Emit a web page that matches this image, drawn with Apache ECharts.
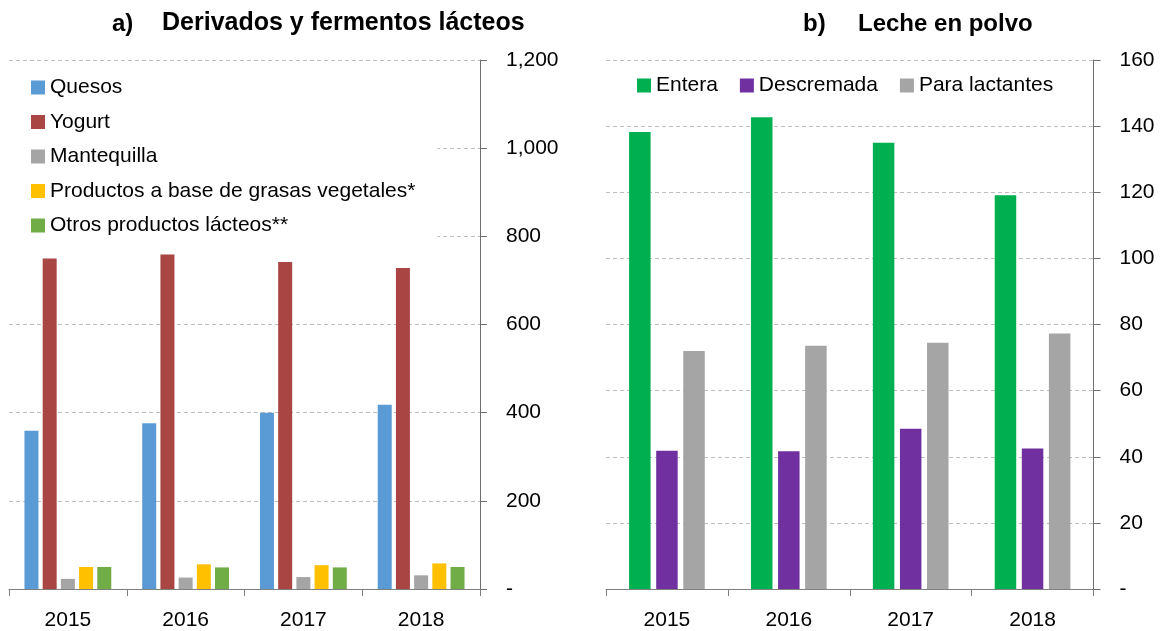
<!DOCTYPE html>
<html>
<head>
<meta charset="utf-8">
<script src="https://cdn.jsdelivr.net/npm/echarts@6/dist/echarts.min.js"></script>
<style>
  html, body { margin: 0; padding: 0; background: #fff; }
  #chart { width: 1163px; height: 631px; }
</style>
</head>
<body>
<div id="chart"></div>
<script>
// ---- Data ----
const years = ['2015', '2016', '2017', '2018'];

const quesos      = [359, 376, 400, 418];
const yogurt      = [750, 759, 742, 728];
const mantequilla = [23, 26, 27, 31];
const grasasVeg   = [50, 56, 54, 58];
const otrosLact   = [50, 49, 49, 50];

const entera      = [138.2, 142.7, 135.0, 119.1];
const descremada  = [41.8, 41.7, 48.5, 42.5];
const lactantes   = [72.0, 73.6, 74.5, 77.3];

const namesA = ['Quesos', 'Yogurt', 'Mantequilla', 'Productos a base de grasas vegetales*', 'Otros productos lácteos**'];
const namesB = ['Entera', 'Descremada', 'Para lactantes'];

const FONT = "'Liberation Sans', Arial, sans-serif";
const AXIS_COLOR = '#7f7f7f';
const GRID_COLOR = '#bfbfbf';

function fmt(v) {
  if (v === 0) return '-';
  return v.toString().replace(/\B(?=(\d{3})+(?!\d))/g, ',');
}

function xAxisCfg(gridIndex) {
  return {
    type: 'category', gridIndex: gridIndex, data: years,
    axisLine: { show: true, lineStyle: { color: AXIS_COLOR, width: 1 } },
    axisTick: { show: true, length: 7, lineStyle: { color: AXIS_COLOR } },
    axisLabel: { color: '#000', fontSize: 21, fontFamily: FONT, margin: 21 },
    splitLine: { show: false }
  };
}
function yAxisCfg(gridIndex, max, interval) {
  return {
    type: 'value', gridIndex: gridIndex, position: 'right',
    min: 0, max: max, interval: interval,
    axisLine: { show: true, lineStyle: { color: '#6f6f6f', width: 1 } },
    axisTick: { show: true, length: 7, lineStyle: { color: '#6f6f6f' } },
    axisLabel: { color: '#000', fontSize: 21, fontFamily: FONT, margin: 26, align: 'left', formatter: fmt },
    splitLine: { show: true, lineStyle: { color: GRID_COLOR, type: [4, 3], width: 1 } }
  };
}

const colorsA = ['#5B9BD5', '#A94644', '#A5A5A5', '#FFC000', '#70AD47'];
const dataA = [quesos, yogurt, mantequilla, grasasVeg, otrosLact];
const colorsB = ['#00B050', '#7030A0', '#A5A5A5'];
const dataB = [entera, descremada, lactantes];

const series = [];
namesA.forEach((n, i) => {
  series.push({
    name: n, type: 'bar', xAxisIndex: 0, yAxisIndex: 0, data: dataA[i],
    barWidth: 14, barGap: '30%', itemStyle: { color: colorsA[i] }
  });
});
namesB.forEach((n, i) => {
  series.push({
    name: n, type: 'bar', xAxisIndex: 1, yAxisIndex: 1, data: dataB[i],
    barWidth: 21.5, barGap: '26%', itemStyle: { color: colorsB[i] }
  });
});

const titleStyle = (size) => ({ fontSize: size, fontWeight: 'bold', color: '#000', fontFamily: FONT });

const chart = echarts.init(document.getElementById('chart'), null, { renderer: 'canvas' });
chart.setOption({
  animation: false,
  backgroundColor: '#fff',
  textStyle: { fontFamily: FONT },
  title: [
    { text: 'a)', left: 107, top: 7, textStyle: titleStyle(24) },
    { text: 'Derivados y fermentos lácteos', left: 157, top: 6, textStyle: titleStyle(25) },
    { text: 'b)', left: 798, top: 7, textStyle: titleStyle(24) },
    { text: 'Leche en polvo', left: 853, top: 7, textStyle: titleStyle(24) }
  ],
  legend: [
    {
      data: namesA, orient: 'vertical', left: 9, top: 65,
      padding: [12, 22, 6, 22], backgroundColor: '#fff',
      itemWidth: 14, itemHeight: 14, itemGap: 13.5, icon: 'rect',
      textStyle: { fontSize: 21, lineHeight: 21, color: '#000', fontFamily: FONT }
    },
    {
      data: namesB, orient: 'horizontal', left: 637, top: 75, padding: 0,
      itemWidth: 14, itemHeight: 14, itemGap: 22, icon: 'rect',
      textStyle: { fontSize: 21, lineHeight: 21, color: '#000', fontFamily: FONT }
    }
  ],
  grid: [
    { left: 9, right: 683, top: 60, bottom: 41 },
    { left: 606, right: 69.5, top: 60, bottom: 41 }
  ],
  xAxis: [xAxisCfg(0), xAxisCfg(1)],
  yAxis: [yAxisCfg(0, 1200, 200), yAxisCfg(1, 160, 20)],
  series: series
});
</script>
</body>
</html>
